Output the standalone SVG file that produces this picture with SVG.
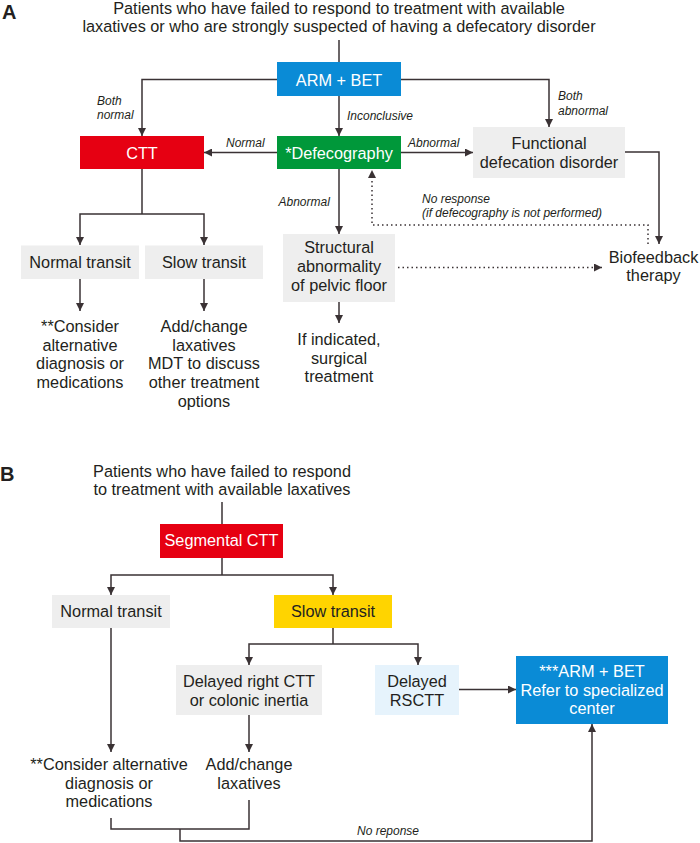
<svg xmlns="http://www.w3.org/2000/svg" width="700" height="843" viewBox="0 0 700 843">
<style>
.t{font-family:"Liberation Sans",Arial,sans-serif;font-size:16.3px;fill:#231f20;text-anchor:middle}
.w{fill:#ffffff}
.i{font-family:"Liberation Sans",Arial,sans-serif;font-size:12px;font-style:italic;fill:#231f20}
.h{font-family:"Liberation Sans",Arial,sans-serif;font-size:20px;font-weight:bold;fill:#231f20}
.ln{stroke:#3a3234;stroke-width:1.5;fill:none}
.dt{stroke:#3a3234;stroke-width:1.5;fill:none;stroke-dasharray:1.5 3}
.ar{marker-end:url(#ah)}
.blue{fill:#0a8bd6}.red{fill:#e60012}.green{fill:#00983a}.gray{fill:#eeeeee}.yel{fill:#ffd400}.lb{fill:#e6f3fc}
</style>
<defs>
<marker id="ah" viewBox="0 0 10 10" refX="10" refY="5" markerWidth="8" markerHeight="8" markerUnits="userSpaceOnUse" orient="auto">
<path d="M0,0 L10,5 L0,10 z" fill="#3a3234"/>
</marker>
</defs>

<!-- Panel A -->
<text class="h" x="2" y="19">A</text>
<g id="titleA">
<text class="t" x="339" y="14">Patients who have failed to respond to treatment with available</text>
<text class="t" x="339" y="32">laxatives or who are strongly suspected of having a defecatory disorder</text>
</g>

<g id="connectorsA">
<path class="ln" d="M339,40 V62"/>
<path class="ln ar" d="M277,79.5 H142 V136"/>
<path class="ln ar" d="M401,79.5 H549 V127"/>
<path class="ln ar" d="M339,96 V136"/>
<path class="ln ar" d="M277,152.5 H204"/>
<path class="ln ar" d="M401,152.5 H473"/>
<path class="ln ar" d="M625,152 H659 V244"/>
<path class="ln" d="M142,169 V214"/>
<path class="ln ar" d="M142,214 H80 V245"/>
<path class="ln ar" d="M142,214 H204 V245"/>
<path class="ln ar" d="M80,279 V311"/>
<path class="ln ar" d="M204,279 V311"/>
<path class="ln ar" d="M339,169 V234"/>
<path class="ln ar" d="M339,302 V323"/>
<path class="dt ar" d="M398,267.5 H602"/>
<path class="dt ar" d="M648,244 V225 H372 V170"/>
<text class="i" x="97" y="104.5">Both</text>
<text class="i" x="97" y="119">normal</text>
<text class="i" x="347" y="120">Inconclusive</text>
<text class="i" x="558" y="100">Both</text>
<text class="i" x="558" y="114.5">abnormal</text>
<text class="i" x="226" y="146.7">Normal</text>
<text class="i" x="408" y="146.7">Abnormal</text>
<text class="i" x="278.5" y="205.7">Abnormal</text>
<text class="i" x="422" y="202.7">No response</text>
<text class="i" x="422" y="216.7">(if defecography is not performed)</text>
</g>

<g id="armbetA">
<rect class="blue" x="277" y="62" width="124" height="34"/>
<text class="t w" x="339" y="85.5">ARM + BET</text>
</g>
<g id="cttA">
<rect class="red" x="80" y="136" width="124" height="33"/>
<text class="t w" x="142" y="158.5">CTT</text>
</g>
<g id="defecographyA">
<rect class="green" x="277" y="136" width="124" height="33"/>
<text class="t w" x="339" y="158.5">*Defecography</text>
</g>
<g id="functionalA">
<rect class="gray" x="473" y="127" width="152" height="51"/>
<text class="t" x="549" y="149">Functional</text>
<text class="t" x="549" y="167.5">defecation disorder</text>
</g>
<g id="normaltransitA">
<rect class="gray" x="21" y="245.5" width="118" height="33.5"/>
<text class="t" x="80" y="267.5">Normal transit</text>
</g>
<g id="slowtransitA">
<rect class="gray" x="145" y="245.5" width="118" height="33.5"/>
<text class="t" x="204" y="267.5">Slow transit</text>
</g>
<g id="considerA">
<text class="t" x="80" y="332.3">**Consider</text>
<text class="t" x="80" y="350.8">alternative</text>
<text class="t" x="80" y="369.3">diagnosis or</text>
<text class="t" x="80" y="388">medications</text>
</g>
<g id="addchangeA">
<text class="t" x="204" y="332.3">Add/change</text>
<text class="t" x="204" y="350.8">laxatives</text>
<text class="t" x="204" y="369.3">MDT to discuss</text>
<text class="t" x="204" y="388">other treatment</text>
<text class="t" x="204" y="406.7">options</text>
</g>
<g id="structuralA">
<rect class="gray" x="283" y="234" width="112" height="68"/>
<text class="t" x="339" y="253.3">Structural</text>
<text class="t" x="339" y="272">abnormality</text>
<text class="t" x="339" y="290.7">of pelvic floor</text>
</g>
<g id="surgicalA">
<text class="t" x="339" y="345.3">If indicated,</text>
<text class="t" x="339" y="363.5">surgical</text>
<text class="t" x="339" y="381.7">treatment</text>
</g>
<g id="biofeedbackA">
<text class="t" x="653.5" y="262.7">Biofeedback</text>
<text class="t" x="653.5" y="281">therapy</text>
</g>

<!-- Panel B -->
<text class="h" x="0" y="481">B</text>
<g id="titleB">
<text class="t" x="222" y="477">Patients who have failed to respond</text>
<text class="t" x="222" y="495">to treatment with available laxatives</text>
</g>

<g id="connectorsB">
<path class="ln" d="M222,502 V524"/>
<path class="ln" d="M222,558 V575"/>
<path class="ln ar" d="M222,575 H111 V595"/>
<path class="ln ar" d="M222,575 H333 V595"/>
<path class="ln ar" d="M111,628 V752"/>
<path class="ln" d="M333,628 V644"/>
<path class="ln ar" d="M333,644 H249 V665"/>
<path class="ln ar" d="M333,644 H418 V665"/>
<path class="ln ar" d="M249,715 V752"/>
<path class="ln ar" d="M459,689.5 H516"/>
<path class="ln" d="M111,818 V829 H249 V800"/>
<path class="ln ar" d="M180,829 V841 H592 V724"/>
<text class="i" x="357" y="835">No reponse</text>
</g>

<g id="segmentalB">
<rect class="red" x="160" y="524" width="123" height="34"/>
<text class="t w" x="221.5" y="546">Segmental CTT</text>
</g>
<g id="normaltransitB">
<rect class="gray" x="52" y="595" width="118" height="33"/>
<text class="t" x="111" y="617">Normal transit</text>
</g>
<g id="slowtransitB">
<rect class="yel" x="274" y="595" width="118" height="33"/>
<text class="t" x="333" y="617">Slow transit</text>
</g>
<g id="delayedrightB">
<rect class="gray" x="176" y="665" width="146" height="50"/>
<text class="t" x="249" y="687">Delayed right CTT</text>
<text class="t" x="249" y="705.5">or colonic inertia</text>
</g>
<g id="rscttB">
<rect class="lb" x="375" y="665" width="84" height="50"/>
<text class="t" x="417" y="687">Delayed</text>
<text class="t" x="417" y="705.5">RSCTT</text>
</g>
<g id="armbetB">
<rect class="blue" x="516" y="656" width="152" height="68"/>
<text class="t w" x="592" y="676.5">***ARM + BET</text>
<text class="t w" x="592" y="695.5">Refer to specialized</text>
<text class="t w" x="592" y="714">center</text>
</g>
<g id="considerB">
<text class="t" x="109" y="770">**Consider alternative</text>
<text class="t" x="109" y="788.5">diagnosis or</text>
<text class="t" x="109" y="807">medications</text>
</g>
<g id="addchangeB">
<text class="t" x="249" y="770">Add/change</text>
<text class="t" x="249" y="788.5">laxatives</text>
</g>
</svg>
